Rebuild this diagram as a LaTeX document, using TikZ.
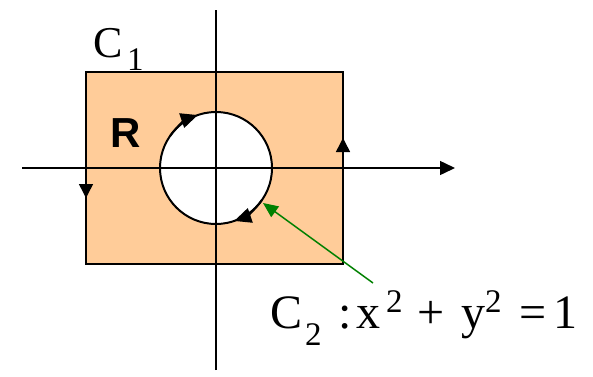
\documentclass[tikz,border=0pt]{standalone}
\usepackage{fontspec}
\setmainfont{Liberation Serif}
\newfontfamily\arialfont{Liberation Sans}
\usetikzlibrary{arrows.meta}
\definecolor{peach}{HTML}{FFCC99}
\definecolor{pgreen}{HTML}{008000}
\tikzset{
  tip/.style={-{Triangle[length=14pt,width=14pt]}},
  ctip/.style={-{Triangle[length=17pt,width=15pt]}},
  bigtxt/.style={inner sep=0pt, anchor=base west, font=\fontsize{48}{48}\selectfont},
  smalltxt/.style={inner sep=0pt, anchor=base west, font=\fontsize{33}{33}\selectfont},
}
\begin{document}
\begin{tikzpicture}[x=1pt,y=1pt]
\useasboundingbox (0,0) rectangle (593,376);
% region
\fill[peach] (86,112) rectangle (343,304);
\coordinate (ctr) at (216,208);
\fill[white] (ctr) circle[radius=56];
\draw[line width=1.5pt] (86,112) rectangle (343,304);
% axes
\coordinate (ytop) at (216,366);
\coordinate (ybot) at (216,6);
\coordinate (xl) at (22,208);
\coordinate (xr) at (455,208);
\draw[line width=1.5pt] (ybot) -- (ytop);
\draw[line width=1.5pt, -{Triangle[length=15pt,width=14pt]}] (xl) -- (xr);
% inner circle
\draw[line width=2pt] (ctr) circle[radius=56];
\draw[line width=2pt, ctip] (ctr) ++(145:56) arc[start angle=145, end angle=109, radius=56];
\draw[line width=2pt, ctip] (ctr) ++(-35:56) arc[start angle=-35, end angle=-71, radius=56];
% edge arrows
\coordinate (l1) at (86,194);
\coordinate (l2) at (86,178);
\draw[line width=1.5pt, tip] (l1) -- (l2);
\coordinate (r1) at (343,222);
\coordinate (r2) at (343,238);
\draw[line width=1.5pt, tip] (r1) -- (r2);
% labels
\node[inner sep=0pt, anchor=base west, font=\fontsize{44}{44}\selectfont] (c1) at (93,319) {C};
\node[smalltxt] (c1s) at (127,306) {1};
\node[inner sep=0pt, anchor=base west, font=\arialfont\bfseries\fontsize{42}{42}\selectfont] (R) at (110,229) {R};
\node[bigtxt] (c2) at (270,48) {C};
\node[smalltxt] (c2s) at (305,31) {2};
\node[bigtxt] (colon) at (338,48) {:};
\node[bigtxt] (xx) at (356,48) {x};
\node[smalltxt] (xs) at (386,64) {2};
\node[bigtxt] (plus) at (417,48) {+};
\node[bigtxt] (yy) at (461,48) {y};
\node[smalltxt] (ys) at (485,64) {2};
\node[bigtxt] (eq) at (519,48) {=};
\node[bigtxt] (one) at (553,48) {1};
% pointer
\coordinate (g1) at (373,93);
\coordinate (g2) at (263,173);
\draw[pgreen, line width=1.5pt, -{Triangle[length=15pt,width=13pt]}] (g1) -- (g2);
\end{tikzpicture}
\end{document}
